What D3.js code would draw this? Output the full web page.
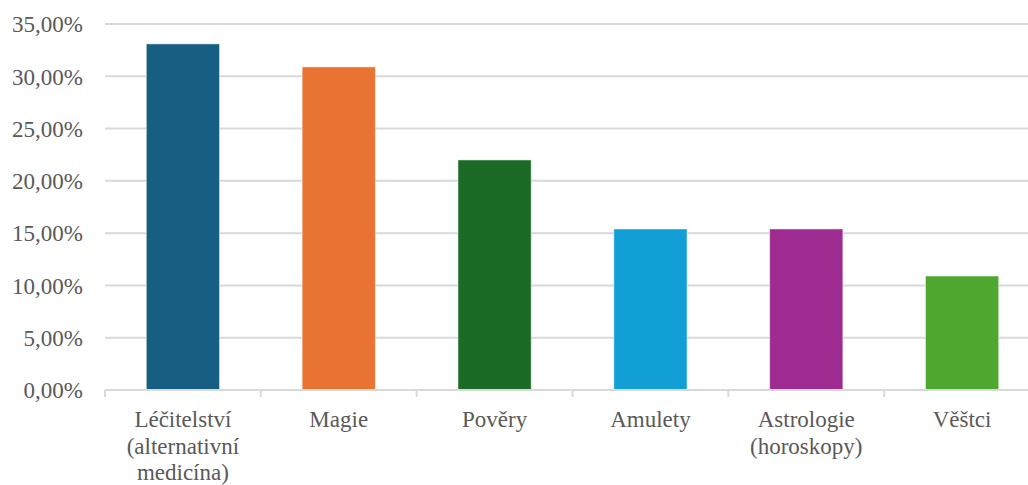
<!DOCTYPE html>
<html>
<head>
<meta charset="utf-8">
<script src="https://cdn.jsdelivr.net/npm/d3@7"></script>
<style>
  html, body { margin: 0; padding: 0; background: #fff; overflow: hidden; }
  svg { display: block; }
  svg text { font-family: "Liberation Serif", "Times New Roman", Times, "DejaVu Serif", serif !important; }
</style>
</head>
<body>
<svg id="chart" width="1028" height="485"></svg>
<script>
const categories = [
  ["Léčitelství", "(alternativní", "medicína)"],
  ["Magie"],
  ["Pověry"],
  ["Amulety"],
  ["Astrologie", "(horoskopy)"],
  ["Věštci"]
];
const values = [0.331, 0.309, 0.220, 0.154, 0.154, 0.109];
const colors = ["#175f82", "#e97333", "#1b6b26", "#119fd6", "#9e2b8f", "#4ea72e"];
const yTicks = [0, 0.05, 0.10, 0.15, 0.20, 0.25, 0.30, 0.35];

const svg = d3.select("#chart");
const plotLeft = 105, plotRight = 1040, plotTop = 24, plotBottom = 390;
const textColor = "#595959";

const x = d3.scaleBand().domain(d3.range(categories.length)).range([plotLeft, plotRight]).padding(0);
const y = d3.scaleLinear().domain([0, 0.35]).range([plotBottom, plotTop]);

const fmt = v => (v * 100).toFixed(2).replace(".", ",") + "%";

// gridlines
svg.append("g")
  .selectAll("line")
  .data(yTicks.filter(t => t > 0))
  .join("line")
  .attr("x1", plotLeft).attr("x2", plotRight)
  .attr("y1", d => y(d)).attr("y2", d => y(d))
  .attr("stroke", "#d9d9d9").attr("stroke-width", 2);

// y labels
const yAxis = d3.axisLeft(y).tickValues(yTicks).tickFormat(fmt).tickSize(0).tickPadding(22);
const yg = svg.append("g").attr("transform", `translate(${plotLeft},0)`).call(yAxis);
yg.attr("font-family", null).attr("font-size", null);
yg.select(".domain").remove();
yg.selectAll("text")
  .style("font-size", "23px").attr("fill", textColor)
  .attr("dy", "0.34em");

// bars
const barW = x.step() * 0.47;
svg.append("g")
  .selectAll("rect")
  .data(values)
  .join("rect")
  .attr("x", (d, i) => x(i) + (x.step() - barW) / 2)
  .attr("width", barW)
  .attr("y", d => y(d))
  .attr("height", d => y(0) - y(d))
  .attr("fill", (d, i) => colors[i])
  .attr("stroke", "#ffffff").attr("stroke-opacity", 0.5).attr("stroke-width", 1);

// x axis
const xAxis = d3.axisBottom(x).tickSize(0).tickFormat("");
const xg = svg.append("g").attr("transform", `translate(0,${plotBottom})`).call(xAxis);
xg.select(".domain").attr("stroke", "#d9d9d9").attr("stroke-width", 2)
  .attr("d", `M${plotLeft},0H${plotRight}`);
xg.selectAll(".tick").remove();

// boundary ticks
svg.append("g")
  .selectAll("line")
  .data(d3.range(categories.length + 1))
  .join("line")
  .attr("x1", i => plotLeft + i * x.step()).attr("x2", i => plotLeft + i * x.step())
  .attr("y1", plotBottom).attr("y2", plotBottom + 7)
  .attr("stroke", "#d9d9d9").attr("stroke-width", 2);

// category labels
const lg = svg.append("g");
categories.forEach((lines, i) => {
  const cx = x(i) + x.bandwidth() / 2;
  const t = lg.append("text")
    .attr("x", cx)
    .attr("y", plotBottom + 37)
    .attr("text-anchor", "middle")
    .style("font-size", "23px").attr("fill", textColor);
  lines.forEach((ln, j) => {
    t.append("tspan").attr("x", cx).attr("dy", j === 0 ? 0 : 26.7).text(ln);
  });
});
</script>
</body>
</html>
